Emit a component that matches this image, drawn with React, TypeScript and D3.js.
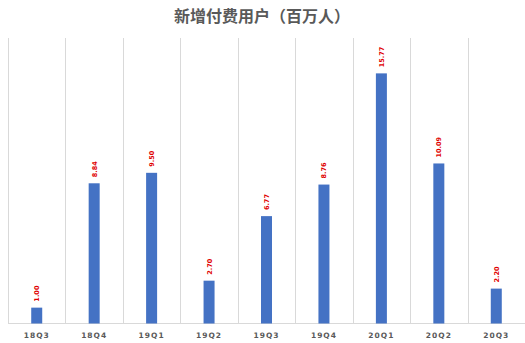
import React from 'react';
import { useRef, useEffect } from 'react';
import { select, scaleBand, scaleLinear } from 'd3';

const quarters = ['18Q3', '18Q4', '19Q1', '19Q2', '19Q3', '19Q4', '20Q1', '20Q2', '20Q3'];
const newPaidUsers = [1.0, 8.84, 9.5, 2.7, 6.77, 8.76, 15.77, 10.09, 2.2];
const chartTitle = '新增付费用户（百万人）';

function App() {
  const svgRef = useRef<SVGSVGElement>(null);

  useEffect(() => {
    const svg = select(svgRef.current);
    svg.selectAll('*').remove();

    const left = 8, right = 525, top = 38, bottom = 323.5;
    const x = scaleBand().domain(quarters).range([left, right]);
    const y = scaleLinear().domain([0, 18]).range([bottom, top]);

    // title
    svg.append('text')
      .attr('x', 262)
      .attr('y', 22)
      .attr('text-anchor', 'middle')
      .attr('font-family', '"Noto Sans CJK SC", sans-serif')
      .attr('font-weight', 'bold')
      .attr('font-size', 16)
      .attr('fill', '#595959')
      .text(chartTitle);

    // vertical gridlines at category boundaries
    svg.selectAll('.grid')
      .data(quarters)
      .join('line')
      .attr('class', 'grid')
      .attr('x1', d => Math.round(x(d)!) + 0.5)
      .attr('x2', d => Math.round(x(d)!) + 0.5)
      .attr('y1', top)
      .attr('y2', bottom)
      .attr('stroke', '#d9d9d9')
      .attr('stroke-width', 1);

    // baseline
    svg.append('line')
      .attr('x1', left)
      .attr('x2', right)
      .attr('y1', bottom)
      .attr('y2', bottom)
      .attr('stroke', '#d9d9d9')
      .attr('stroke-width', 1);

    const barW = 11;
    svg.selectAll('.bar')
      .data(newPaidUsers)
      .join('rect')
      .attr('class', 'bar')
      .attr('x', (d, i) => x(quarters[i])! + x.bandwidth() / 2 - barW / 2)
      .attr('y', d => y(d))
      .attr('width', barW)
      .attr('height', d => bottom - y(d))
      .attr('fill', '#4472c4');

    // value labels, rotated
    svg.selectAll('.val')
      .data(newPaidUsers)
      .join('text')
      .attr('class', 'val')
      .attr('transform', (d, i) => {
        const cx = x(quarters[i])! + x.bandwidth() / 2;
        return `translate(${cx + 2.5},${y(d) - 6}) rotate(-90)`;
      })
      .attr('text-anchor', 'start')
      .attr('font-family', '"DejaVu Sans", sans-serif')
      .attr('font-weight', 'bold')
      .attr('font-size', 6.5)
      .attr('fill', '#e00000')
      .text(d => d.toFixed(2));

    // category labels
    svg.selectAll('.cat')
      .data(quarters)
      .join('text')
      .attr('class', 'cat')
      .attr('x', d => x(d)! + x.bandwidth() / 2)
      .attr('y', 338)
      .attr('text-anchor', 'middle')
      .attr('font-family', '"DejaVu Sans", sans-serif')
      .attr('font-weight', 'bold')
      .attr('font-size', 7.5)
      .attr('letter-spacing', 1)
      .attr('fill', '#595959')
      .text(d => d);
  }, []);

  return (
    <svg ref={svgRef} width={525} height={343}
      style={{ position: 'absolute', left: 0, top: 0, background: '#fff' }} />
  );
}

export default App;
